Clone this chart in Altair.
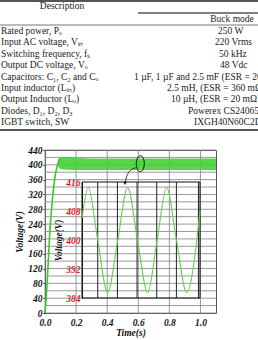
import altair as alt
import pandas as pd

# ---------------- table content ----------------
param_names = ["Rated power, Pₒ", "Input AC voltage, Vᵢₙ", "Switching frequency, fₛ",
               "Output DC voltage, Vₒ", "Capacitors: C₁, C₂ and Cₒ", "Input inductor (Lᵢₙ)",
               "Output Inductor (Lₒ)", "Diodes, D₁, D₂, D₃", "IGBT switch, SW"]
buck_values = ["250 W", "220 Vrms", "50 kHz", "48 Vdc",
               "1 µF, 1 µF and 2.5 mF (ESR = 20 mΩ)", "2.5 mH, (ESR = 360 mΩ)",
               "10 µH, (ESR = 20 mΩ)", "Powerex CS240650", "IXGH40N60C2D1"]
header_left = "Description"
header_right = "Buck mode"

# ---------------- main curve (output voltage) ----------------
rise_t = [0.0, 0.006, 0.011, 0.02, 0.028, 0.04, 0.054, 0.066, 0.078, 0.086, 0.095]
rise_v = [0, 30, 62, 130, 197, 270, 332, 372, 395, 408, 418]

band_t = [0.085, 0.1, 0.15, 0.2, 0.3, 0.5, 0.7, 0.9, 1.1]
band_lo = [395, 388, 387, 386, 386, 386, 386, 386, 386]
band_hi = [412, 421, 421, 419, 417, 417, 417, 417, 417]

y_ticks = list(range(0, 441, 20))
y_labels = list(range(0, 441, 40))
x_ticks = [0.0, 0.2, 0.4, 0.6, 0.8, 1.0]

# annotation (ellipse + arrow) in main-plot data units
mark_t, mark_v = [0.613], [403]
arrow_t = [0.585, 0.545, 0.525, 0.515]
arrow_v = [392, 383, 368, 352]

# ---------------- inset (zoomed ripple) ----------------
inset_ms = [0, 1.6, 4.0, 6.5, 9.1, 11.6, 14.1, 16.7, 19.1, 21.5, 24.0, 26.6, 30]
inset_v = [406, 414.5, 400, 385.5, 400, 414.5, 400, 385.5, 400, 414.5, 400, 385.5, 407.8]
inset_grid_ms = [4, 9, 14, 19, 24, 29.6]
inset_ticks = [384, 392, 400, 408, 416]

# ---------------- layout ----------------
OX, OY = 45, 150          # plot origin inside the 258x340 page
W, H = 171, 163
FONT = "Liberation Serif"
GREEN = "#45d035"
GRID = "#808080"


def xs():
    return alt.Scale(domain=[0, 1.1], range=[0, W], nice=False, zero=False)


def ys():
    return alt.Scale(domain=[0, 440], range=[H, 0], nice=False, zero=False)


common_lab = dict(labelFont=FONT, labelFontStyle="italic", labelFontWeight="bold",
                  labelFontSize=9.5, labelColor="#111", labelOverlap=False,
                  titleFont=FONT, titleFontStyle="italic", titleFontWeight="bold",
                  titleFontSize=9.5, titleColor="#111")

x_axis = alt.Axis(values=x_ticks, format=".1f", title="Time(s)", grid=False,
                  domain=False, ticks=False,
                  labelFlush=False, labelPadding=4, titlePadding=1, **common_lab)
y_axis = alt.Axis(values=y_labels, format="d", title="Voltage(V)", grid=False,
                  domain=False, ticks=True, tickSize=2, tickColor="#111",
                  labelPadding=1, titlePadding=3, **common_lab)

hgrid = alt.Chart(pd.DataFrame({"v": y_ticks})).mark_rule(
    color=GRID, strokeWidth=0.8).encode(
    y=alt.Y("v:Q", scale=ys(), axis=y_axis))
vgrid = alt.Chart(pd.DataFrame({"t": x_ticks})).mark_rule(
    color=GRID, strokeWidth=0.8).encode(
    x=alt.X("t:Q", scale=xs(), axis=x_axis))

band = alt.Chart(pd.DataFrame({"t": band_t, "lo": band_lo, "hi": band_hi})).mark_area(
    color=GREEN, opacity=0.9).encode(
    x=alt.X("t:Q", scale=xs(), axis=None),
    y=alt.Y("lo:Q", scale=ys(), axis=None), y2="hi:Q")
rise = alt.Chart(pd.DataFrame({"t": rise_t, "v": rise_v})).mark_line(
    color="#3cc82c", strokeWidth=1.6, interpolate="monotone").encode(
    x=alt.X("t:Q", scale=xs(), axis=None), y=alt.Y("v:Q", scale=ys(), axis=None))

ELLIPSE = "M -0.5 0 A 0.5 1 0 1 1 0.5 0 A 0.5 1 0 1 1 -0.5 0 Z"
ell = alt.Chart(pd.DataFrame({"t": mark_t, "v": mark_v})).mark_point(
    shape=ELLIPSE, size=256, filled=False, stroke="#111", strokeWidth=1, opacity=1
).encode(x=alt.X("t:Q", scale=xs(), axis=None), y=alt.Y("v:Q", scale=ys(), axis=None))
arrow = alt.Chart(pd.DataFrame({"t": arrow_t, "v": arrow_v})).mark_line(
    color="#111", strokeWidth=0.8, interpolate="monotone").encode(
    x=alt.X("t:Q", scale=xs(), axis=None), y=alt.Y("v:Q", scale=ys(), axis=None))
head = alt.Chart(pd.DataFrame({"t": [arrow_t[-1]], "v": [arrow_v[-1] - 2]})).mark_point(
    shape="triangle-down", filled=True, color="#111", size=14, opacity=1
).encode(x=alt.X("t:Q", scale=xs(), axis=None), y=alt.Y("v:Q", scale=ys(), axis=None))

# inset
def xi():
    return alt.Scale(domain=[0, 30], range=[37, 155], nice=False, zero=False)


def yi():
    return alt.Scale(domain=[384, 416], range=[148, 32], nice=False, zero=False)


inset_axis = alt.Axis(orient="left", offset=-37, values=inset_ticks, format="d",
                      title="Voltage(V)", grid=False, ticks=False, domain=True,
                      domainColor="#111", labelPadding=2, titlePadding=2,
                      labelOverlap=False,
                      labelFont=FONT, labelFontStyle="italic", labelFontWeight="bold",
                      labelFontSize=9.5, labelColor="#e01818",
                      titleFont=FONT, titleFontStyle="italic", titleFontWeight="bold",
                      titleFontSize=9.5, titleColor="#111")

frame = alt.Chart(pd.DataFrame({"a": [0], "b": [30], "lo": [384], "hi": [416]})).mark_rect(
    fill="white", fillOpacity=0, stroke="#111", strokeWidth=1).encode(
    x=alt.X("a:Q", scale=xi(), axis=None), x2="b:Q",
    y=alt.Y("lo:Q", scale=yi(), axis=inset_axis), y2="hi:Q")
igrid = alt.Chart(pd.DataFrame({"ms": inset_grid_ms, "lo": 384, "hi": 416})).mark_rule(
    color="#222", strokeWidth=1).encode(
    x=alt.X("ms:Q", scale=xi(), axis=None),
    y=alt.Y("lo:Q", scale=yi(), axis=None), y2="hi:Q")
icurve = alt.Chart(pd.DataFrame({"ms": inset_ms, "v": inset_v})).mark_line(
    color="#62d448", strokeWidth=1.1, interpolate="monotone").encode(
    x=alt.X("ms:Q", scale=xi(), axis=None), y=alt.Y("v:Q", scale=yi(), axis=None))

# table
tab_df = pd.DataFrame({"row": list(range(len(param_names))),
                       "name": param_names, "val": buck_values})
value_left = [218, 215, 219, 220, 134, 167, 171, 188, 194]
tab_df["vx"] = [v - OX for v in value_left]


def yt():
    return alt.Scale(domain=[0, 8], range=[31 - OY, 122 - OY], nice=False, zero=False)


tstyle = dict(font=FONT, fontSize=9.5, color="#222", baseline="middle")

names = alt.Chart(tab_df).mark_text(align="left", **tstyle).encode(
    x=alt.value(1 - OX), y=alt.Y("row:Q", scale=yt(), axis=None), text="name:N")
vals = alt.Chart(tab_df).mark_text(align="left", **tstyle).encode(
    x=alt.X("vx:Q", scale=None, axis=None),
    y=alt.Y("row:Q", scale=yt(), axis=None), text="val:N")
h1 = alt.Chart(pd.DataFrame({"s": [header_left]})).mark_text(align="center", **tstyle).encode(
    x=alt.value(62 - OX), y=alt.value(6 - OY), text="s:N")
h2 = alt.Chart(pd.DataFrame({"s": [header_right]})).mark_text(align="center", **tstyle).encode(
    x=alt.value(232 - OX), y=alt.value(19 - OY), text="s:N")


def hrule(y, x0, x1, w):
    return alt.Chart(pd.DataFrame({"k": [0]})).mark_rule(color="#555", strokeWidth=w).encode(
        x=alt.value(x0 - OX), x2=alt.value(x1 - OX), y=alt.value(y - OY))


rules = [hrule(1, 0, 258, 2), hrule(13, 138, 258, 1.5), hrule(25, 0, 258, 0.8),
         hrule(130, 0, 258, 2)]

chart = alt.layer(
    hgrid, vgrid, band, rise, ell, arrow, head,
    frame, igrid, icurve,
    names, vals, h1, h2, *rules
).resolve_scale(
    x="independent", y="independent"
).properties(
    width=W, height=H,
    padding={"left": OX, "top": OY, "right": 258 - OX - W, "bottom": 340 - OY - H},
    autosize=alt.AutoSizeParams(type="none"),
    background="white",
).configure_view(stroke="#555", strokeWidth=1)

chart.save("out.html", embed_options={"renderer": "svg", "actions": False})
